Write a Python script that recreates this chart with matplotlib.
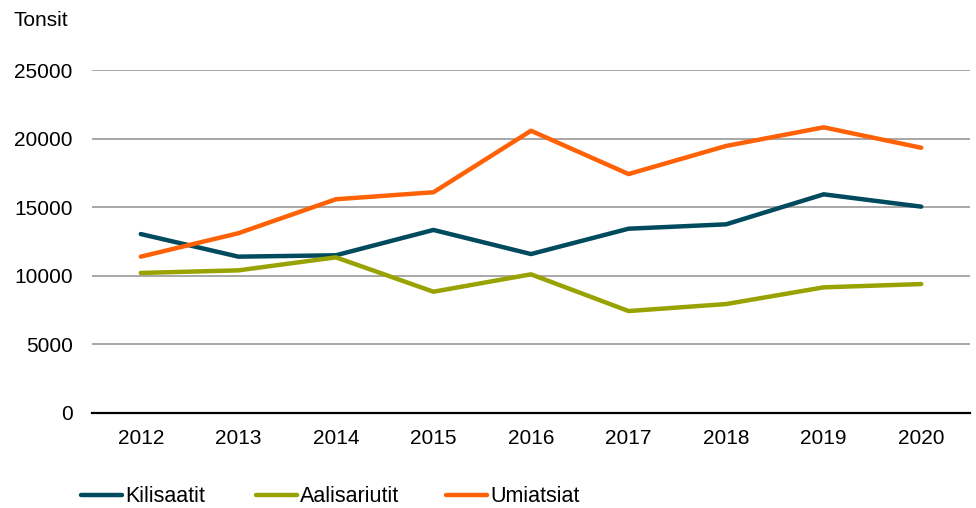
import matplotlib.pyplot as plt

plt.rcParams['font.family'] = ['Liberation Sans', 'DejaVu Sans']

years = ['2012', '2013', '2014', '2015', '2016', '2017', '2018', '2019', '2020']
kilisaatit = [13040, 11390, 11490, 13340, 11580, 13430, 13750, 15940, 15040]
aalisariutit = [10200, 10390, 11340, 8830, 10100, 7420, 7930, 9150, 9390]
umiatsiat = [11390, 13100, 15580, 16090, 20580, 17420, 19470, 20830, 19340]

series = [
    ('Kilisaatit', kilisaatit, '#004a5e'),
    ('Aalisariutit', aalisariutit, '#98a200'),
    ('Umiatsiat', umiatsiat, '#ff6105'),
]

fig = plt.figure(figsize=(9.76, 5.08), dpi=100)
ax = fig.add_axes([92 / 976, 1 - 412.7 / 508, 878 / 976, (412.7 - 70.2) / 508])

x = list(range(len(years)))
lines = []
for name, vals, col in series:
    ln, = ax.plot(x, vals, color=col, lw=3.2, solid_capstyle='round',
                  solid_joinstyle='round', label=name, zorder=3)
    lines.append(ln)

ax.set_xlim(-0.5, len(years) - 0.5)
ax.set_ylim(0, 25000)
ax.set_yticks(range(0, 25001, 5000))
ax.set_xticks(x)
ax.set_xticklabels(years)
ax.yaxis.grid(True, color='#a0a0a0', lw=1.3)
ax.set_axisbelow(True)
for s in ['top', 'right', 'left']:
    ax.spines[s].set_visible(False)
ax.spines['bottom'].set_color('black')
ax.spines['bottom'].set_linewidth(1.6)
ax.spines['bottom'].set_zorder(4)
ax.tick_params(axis='both', length=0, labelsize=15, colors='black')
ax.tick_params(axis='y', pad=14)
ax.tick_params(axis='x', pad=12)

fig.text(13 / 976, 1 - 21 / 508, 'Tonsit', fontsize=15, va='center', ha='left')

legend_x = [81, 256, 446]
for ln, lx in zip(lines, legend_x):
    leg = fig.legend(handles=[ln], loc='center left',
                     bbox_to_anchor=(lx / 976, 1 - 497 / 508),
                     frameon=False, handlelength=1.9,
                     handletextpad=0.15, borderaxespad=0, borderpad=0,
                     prop={'family': ['Liberation Sans Narrow', 'Liberation Sans'], 'size': 15.5})

fig.savefig('out.png', dpi=100)
